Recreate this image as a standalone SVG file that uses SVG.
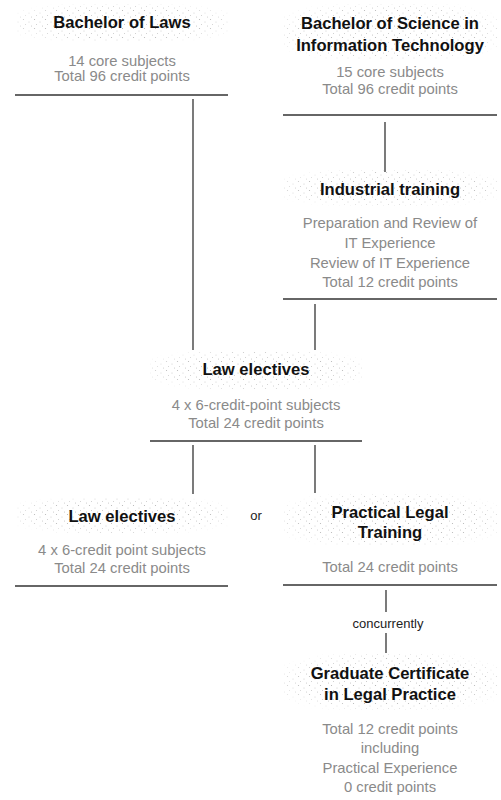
<svg xmlns="http://www.w3.org/2000/svg" width="501" height="800" viewBox="0 0 501 800">
<defs>
<pattern id="stip" width="11" height="9" patternUnits="userSpaceOnUse">
<circle cx="1.5" cy="1.5" r="0.6" fill="#9a9a9a"/>
<circle cx="7" cy="4" r="0.5" fill="#aaa"/>
<circle cx="3.5" cy="6.5" r="0.5" fill="#b0b0b0"/>
<circle cx="9.5" cy="8" r="0.5" fill="#a5a5a5"/>
</pattern>
<radialGradient id="fade" cx="0.5" cy="0.5" r="0.6">
<stop offset="0" stop-color="#fff" stop-opacity="1"/>
<stop offset="0.7" stop-color="#fff" stop-opacity="0.85"/>
<stop offset="1" stop-color="#fff" stop-opacity="0"/>
</radialGradient>
<mask id="m" maskContentUnits="objectBoundingBox"><rect width="1" height="1" fill="url(#fade)"/></mask>
</defs>
<style>
.st{fill:url(#stip);opacity:0.85}
.t{font-family:"Liberation Sans",Arial,sans-serif;font-weight:bold;font-size:16.6px;fill:#111;text-anchor:middle}
.b{font-family:"Liberation Sans",Arial,sans-serif;font-size:14.8px;fill:#8a8a8a;text-anchor:middle}
.sm{font-family:"Liberation Sans",Arial,sans-serif;font-size:13px;fill:#222;text-anchor:middle}
.hl{stroke:#333;stroke-width:1.6;fill:none}
.vl{stroke:#333;stroke-width:1.3;fill:none}
</style>
<g id="connectors">
<line class="vl" x1="193" y1="99" x2="193" y2="350"/>
<line class="vl" x1="385" y1="122" x2="385" y2="172"/>
<line class="vl" x1="315" y1="304" x2="315" y2="350"/>
<line class="vl" x1="193" y1="445" x2="193" y2="494"/>
<line class="vl" x1="315" y1="445" x2="315" y2="493"/>
<line class="vl" x1="386" y1="590" x2="386" y2="612"/>
<line class="vl" x1="386" y1="633" x2="386" y2="653"/>
</g>
<g id="bachelor-laws">
<rect class="st" x="15" y="4" width="213" height="38" mask="url(#m)"/>
<text class="t" x="122" y="28">Bachelor of Laws</text>
<text class="b" x="122" y="66">14 core subjects</text>
<text class="b" x="122" y="81">Total 96 credit points</text>
<line class="hl" x1="15" y1="95" x2="228" y2="95"/>
</g>
<g id="bachelor-it">
<rect class="st" x="283" y="4" width="214" height="56" mask="url(#m)"/>
<text class="t" x="390" y="29">Bachelor of Science in</text>
<text class="t" x="390" y="51">Information Technology</text>
<text class="b" x="390" y="77">15 core subjects</text>
<text class="b" x="390" y="94">Total 96 credit points</text>
<line class="hl" x1="283" y1="115" x2="497" y2="115"/>
</g>
<g id="industrial">
<rect class="st" x="283" y="170" width="214" height="36" mask="url(#m)"/>
<text class="t" x="390" y="195">Industrial training</text>
<text class="b" x="390" y="228">Preparation and Review of</text>
<text class="b" x="390" y="248">IT Experience</text>
<text class="b" x="390" y="268">Review of IT Experience</text>
<text class="b" x="390" y="287">Total 12 credit points</text>
<line class="hl" x1="283" y1="299" x2="497" y2="299"/>
</g>
<g id="law-electives-mid">
<rect class="st" x="150" y="351" width="212" height="38" mask="url(#m)"/>
<text class="t" x="256" y="375">Law electives</text>
<text class="b" x="256" y="410">4 x 6-credit-point subjects</text>
<text class="b" x="256" y="428">Total 24 credit points</text>
<line class="hl" x1="150" y1="441" x2="362" y2="441"/>
</g>
<g id="law-electives-left">
<rect class="st" x="15" y="497" width="213" height="36" mask="url(#m)"/>
<text class="t" x="122" y="522">Law electives</text>
<text class="b" x="122" y="555">4 x 6-credit point subjects</text>
<text class="b" x="122" y="573">Total 24 credit points</text>
<line class="hl" x1="15" y1="586" x2="228" y2="586"/>
</g>
<g id="or">
<text class="sm" x="256" y="520">or</text>
</g>
<g id="plt">
<rect class="st" x="283" y="494" width="214" height="52" mask="url(#m)"/>
<text class="t" x="390" y="518">Practical Legal</text>
<text class="t" x="390" y="538">Training</text>
<text class="b" x="390" y="572">Total 24 credit points</text>
<line class="hl" x1="283" y1="585" x2="497" y2="585"/>
</g>
<g id="concurrently">
<text class="sm" x="388" y="628">concurrently</text>
</g>
<g id="grad-cert">
<rect class="st" x="283" y="654" width="214" height="56" mask="url(#m)"/>
<text class="t" x="390" y="679">Graduate Certificate</text>
<text class="t" x="390" y="700">in Legal Practice</text>
<text class="b" x="390" y="734">Total 12 credit points</text>
<text class="b" x="390" y="753">including</text>
<text class="b" x="390" y="773">Practical Experience</text>
<text class="b" x="390" y="792">0 credit points</text>
</g>
</svg>
